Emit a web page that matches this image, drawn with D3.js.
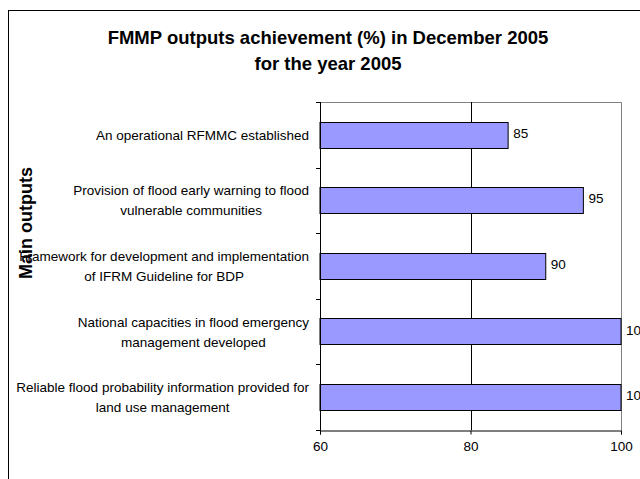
<!DOCTYPE html>
<html>
<head>
<meta charset="utf-8">
<script src="https://cdn.jsdelivr.net/npm/d3@7"></script>
<style>
  body { margin: 0; background: #fff; }
  svg { display: block; font-family: "Liberation Sans", Arial, sans-serif; }
</style>
</head>
<body>
<div id="chart"></div>
<script>
// chart data
const outputs = [
  ["An operational RFMMC established"],
  ["Provision of flood early warning to flood", "vulnerable communities"],
  ["Framework for development and implementation", "of IFRM Guideline for BDP"],
  ["National capacities in flood emergency", "management developed"],
  ["Reliable flood probability information provided for", "land use management"]
];
const achievement = [85, 95, 90, 100, 100];
const xTicks = [60, 80, 100];

const width = 640, height = 479;
const plot = { left: 320, right: 621, top: 102, bottom: 430 };

const svg = d3.select("#chart")
  .append("svg")
  .attr("width", width)
  .attr("height", height);

// outer frame (runs past the window on right and bottom)
svg.append("rect")
  .attr("x", 8.5).attr("y", 10.5)
  .attr("width", 700).attr("height", 600)
  .attr("fill", "none")
  .attr("stroke", "#000");

// title
const title = svg.append("text")
  .attr("text-anchor", "middle")
  .attr("font-weight", "bold")
  .attr("font-size", 18.5);
title.append("tspan").attr("x", 328).attr("y", 44).text("FMMP outputs achievement (%) in December 2005");
title.append("tspan").attr("x", 328).attr("y", 70).text("for the year 2005");

const data = outputs.map((lines, i) => ({ key: lines.join(" "), lines, value: achievement[i] }));

const x = d3.scaleLinear()
  .domain([60, 100])
  .range([plot.left, plot.right]);

const y = d3.scaleBand()
  .domain(data.map(d => d.key))
  .range([plot.top, plot.bottom])
  .paddingInner(0.6)
  .paddingOuter(0.3);

// plot border top/right
svg.append("path")
  .attr("d", `M${plot.left},${plot.top + 0.5}H${plot.right + 0.5}V${plot.bottom}`)
  .attr("fill", "none")
  .attr("stroke", "#808080");

// vertical gridline
svg.append("g")
  .selectAll("line")
  .data(xTicks.filter(t => t > 60 && t < 100))
  .join("line")
  .attr("x1", d => Math.round(x(d)) + 0.5)
  .attr("x2", d => Math.round(x(d)) + 0.5)
  .attr("y1", plot.top)
  .attr("y2", plot.bottom)
  .attr("stroke", "#000");

// bars
svg.append("g")
  .selectAll("rect")
  .data(data)
  .join("rect")
  .attr("x", x(60))
  .attr("y", d => Math.round(y(d.key)) + 0.5)
  .attr("width", d => x(d.value) - x(60))
  .attr("height", Math.round(y.bandwidth()))
  .attr("fill", "#9999ff")
  .attr("stroke", "#000");

// value labels
svg.append("g")
  .selectAll("text")
  .data(data)
  .join("text")
  .attr("x", d => x(d.value) + 5)
  .attr("y", d => y(d.key) + y.bandwidth() / 2 + 3)
  .attr("font-size", 13.5)
  .text(d => d.value);

// x axis
const xAxis = svg.append("g")
  .attr("transform", `translate(0,${plot.bottom + 0.5})`)
  .call(d3.axisBottom(x).tickValues(xTicks).tickSize(4).tickPadding(7));
xAxis.select(".domain").attr("stroke", "#000");
xAxis.selectAll("text").attr("font-size", 13.5).attr("font-family", "Liberation Sans, Arial, sans-serif").attr("fill", "#000");

// y axis: ticks at category boundaries
const bounds = d3.range(data.length + 1).map(i => plot.top + i * y.step());
svg.append("line")
  .attr("x1", plot.left + 0.5).attr("x2", plot.left + 0.5)
  .attr("y1", plot.top).attr("y2", plot.bottom + 4)
  .attr("stroke", "#000");
svg.append("g")
  .selectAll("line")
  .data(bounds)
  .join("line")
  .attr("x1", plot.left - 4).attr("x2", plot.left)
  .attr("y1", d => Math.round(d) + 0.5)
  .attr("y2", d => Math.round(d) + 0.5)
  .attr("stroke", "#000");

// category labels, each block right aligned with lines centred
const labelRight = 309;
const labels = svg.append("g")
  .selectAll("text")
  .data(data)
  .join("text")
  .attr("font-size", 13.5)
  .attr("text-anchor", "middle");
labels.each(function(d) {
  const t = d3.select(this);
  const cy = y(d.key) + y.bandwidth() / 2;
  const n = d.lines.length;
  d.lines.forEach((line, i) => {
    t.append("tspan")
      .attr("y", cy + (i - (n - 1) / 2) * 20 + 5)
      .text(line);
  });
  let maxW = 0;
  t.selectAll("tspan").each(function() { maxW = Math.max(maxW, this.getComputedTextLength()); });
  t.selectAll("tspan").attr("x", labelRight - maxW / 2);
});

// axis title
svg.append("text")
  .attr("transform", "translate(32,223) rotate(-90)")
  .attr("text-anchor", "middle")
  .attr("font-weight", "bold")
  .attr("font-size", 18)
  .text("Main outputs");
</script>
</body>
</html>
